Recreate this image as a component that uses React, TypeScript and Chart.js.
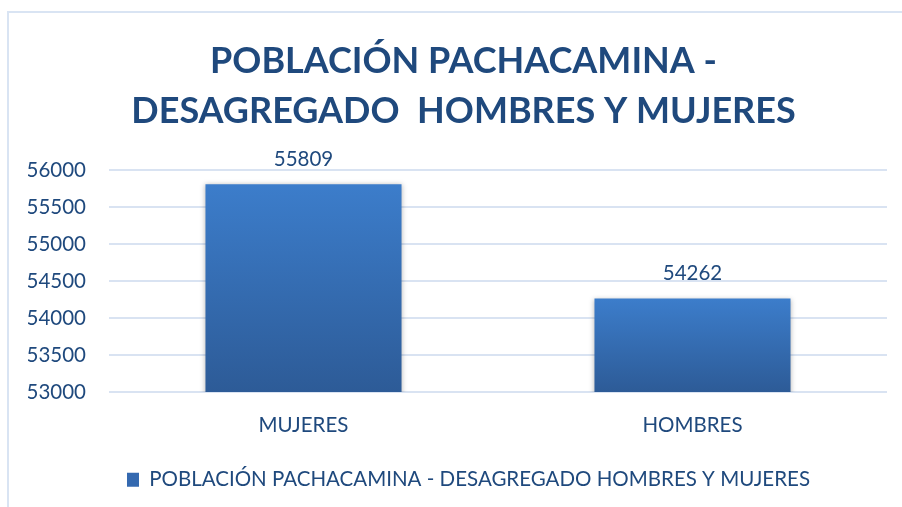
import React, { useEffect, useRef } from 'react';
import { Chart, registerables } from 'chart.js';

Chart.register(...registerables);

const CATEGORIES = ['MUJERES', 'HOMBRES'];
const VALUES = [55809, 54262];
const SERIES_LABEL = 'POBLACIÓN PACHACAMINA - DESAGREGADO HOMBRES Y MUJERES';
const TITLE_LINES = ['POBLACIÓN PACHACAMINA -', 'DESAGREGADO  HOMBRES Y MUJERES'];
const Y_MIN = 53000;
const Y_MAX = 56000;
const Y_STEP = 500;

const TEXT_COLOR = '#1F497D';
const GRID_COLOR = '#D9E3F2';
const FONT = 'Lato, "Open Sans", sans-serif';

const barDecor = {
  id: 'barDecor',
  afterLayout(chart: any) {
    if (chart.titleBlock) chart.titleBlock.left = 40;
    if (chart.legend) chart.legend.left = 50;
  },
  beforeDatasetsDraw(chart: any) {
    const c = chart.ctx;
    c.save();
    c.shadowColor = 'rgba(0,0,0,0.28)';
    c.shadowBlur = 5;
    c.shadowOffsetX = 0;
    c.shadowOffsetY = 0;
  },
  afterDatasetsDraw(chart: any) {
    const c = chart.ctx;
    c.restore();
    const meta = chart.getDatasetMeta(0);
    const data = chart.data.datasets[0].data;
    c.save();
    c.font = `20.5px ${FONT}`;
    c.fillStyle = TEXT_COLOR;
    c.textAlign = 'center';
    c.textBaseline = 'middle';
    meta.data.forEach((el: any, i: number) => {
      c.fillText(String(data[i]), el.x, el.y - 25);
    });
    c.restore();
  },
};

export default function App() {
  const ref = useRef<HTMLCanvasElement | null>(null);

  useEffect(() => {
    if (!ref.current) return;
    const chart = new Chart(ref.current, {
      type: 'bar',
      data: {
        labels: CATEGORIES,
        datasets: [
          {
            label: SERIES_LABEL,
            data: VALUES,
            backgroundColor: (ctx: any) => {
              const ch = ctx.chart;
              const y = ch.scales && ch.scales.y;
              if (ctx.dataIndex === undefined || !y) return '#3469B0';
              const top = y.getPixelForValue(ctx.dataset.data[ctx.dataIndex]);
              const bottom = y.getPixelForValue(y.min);
              if (!isFinite(top) || !isFinite(bottom) || top === bottom) return '#3469B0';
              const g = ch.ctx.createLinearGradient(0, top, 0, bottom);
              g.addColorStop(0, '#3C7DCB');
              g.addColorStop(1, '#2D5B97');
              return g;
            },
            borderWidth: 0,
            barPercentage: 0.504,
            categoryPercentage: 1,
          },
        ],
      },
      options: {
        responsive: false,
        animation: false,
        layout: { padding: { left: 28, right: 15, top: 0, bottom: 7 } },
        plugins: {
          title: {
            display: true,
            text: TITLE_LINES,
            color: TEXT_COLOR,
            font: { family: FONT, size: 36, weight: 'bold', lineHeight: 50 / 36 },
            padding: { top: 36, bottom: 34 },
          },
          legend: {
            position: 'bottom',
            labels: {
              color: TEXT_COLOR,
              font: { family: FONT, size: 20.5 },
              boxWidth: 12,
              boxHeight: 14,
              padding: 10,
              generateLabels: () => [
                {
                  text: SERIES_LABEL,
                  fillStyle: '#3469B0',
                  strokeStyle: '#3469B0',
                  lineWidth: 0,
                  hidden: false,
                  datasetIndex: 0,
                  fontColor: TEXT_COLOR,
                },
              ],
            },
          },
          tooltip: { enabled: false },
        },
        scales: {
          x: {
            grid: { display: false, drawTicks: false },
            border: { display: false },
            ticks: {
              color: TEXT_COLOR,
              font: { family: FONT, size: 20.5 },
              padding: 21,
            },
            afterFit: (scale: any) => {
              scale.height += 1;
            },
          },
          y: {
            min: Y_MIN,
            max: Y_MAX,
            grid: { color: GRID_COLOR, lineWidth: 2, drawTicks: false },
            border: { display: false },
            ticks: {
              stepSize: Y_STEP,
              color: TEXT_COLOR,
              font: { family: FONT, size: 20.5 },
              padding: 23,
              callback: (v: any) => String(v),
            },
            afterFit: (scale: any) => {
              scale.width = 81;
            },
          },
        },
      },
      plugins: [barDecor],
    });
    return () => chart.destroy();
  }, []);

  return (
    <div
      style={{
        position: 'absolute',
        left: 0,
        top: 0,
        width: 902,
        height: 507,
        overflow: 'hidden',
        background: '#FFFFFF',
      }}
    >
      <div
        style={{
          position: 'absolute',
          left: 7,
          top: 11,
          width: 1000,
          height: 1000,
          borderLeft: '2px solid #D9E4F3',
          borderTop: '2px solid #D9E4F3',
        }}
      />
      <canvas
        ref={ref}
        width={902}
        height={507}
        style={{ position: 'absolute', left: 0, top: 0, display: 'block' }}
      />
    </div>
  );
}
